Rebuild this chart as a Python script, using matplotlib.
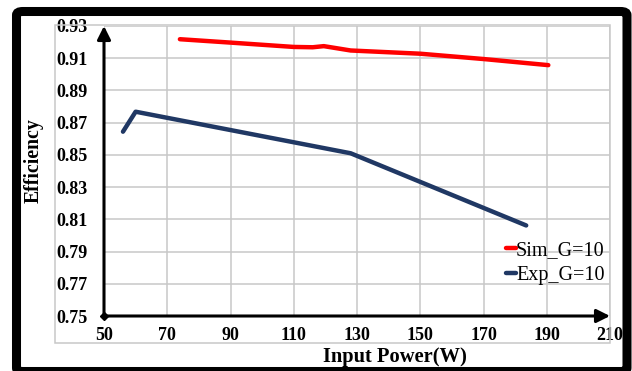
import numpy as np
import matplotlib.pyplot as plt
from matplotlib.patches import Rectangle, FancyBboxPatch

# data
sim_power = [74, 90, 110, 116, 119.5, 128, 150, 170, 190.5]
sim_eff = [0.9218, 0.9197, 0.9170, 0.9168, 0.9175, 0.9148, 0.9128, 0.9095, 0.9057]
exp_power = [56, 60, 128, 183.5]
exp_eff = [0.8644, 0.8768, 0.8510, 0.8062]

xticks = [50, 70, 90, 110, 130, 150, 170, 190, 210]
yticks = [0.75, 0.77, 0.79, 0.81, 0.83, 0.85, 0.87, 0.89, 0.91, 0.93]

W, H = 632, 371
serif = 'Liberation Serif'

fig = plt.figure(figsize=(W / 100, H / 100), dpi=100)
ax = fig.add_axes([104 / W, 1 - 316 / H, 506 / W, 290 / H])

ax.plot(sim_power, sim_eff, color='#ff0000', lw=3.2, solid_capstyle='round', label='Sim_G=10')
ax.plot(exp_power, exp_eff, color='#203864', lw=3.2, solid_capstyle='round', label='Exp_G=10')

ax.set_xlim(50, 210)
ax.set_ylim(0.75, 0.93)
ax.set_xticks(xticks)
ax.set_yticks(yticks)
ax.set_xticklabels([str(t) for t in xticks], fontfamily=serif, fontweight='bold', fontsize=13)
ax.set_yticklabels(['%.2f' % t for t in yticks], fontfamily=serif, fontweight='bold', fontsize=13)
ax.tick_params(length=0)
ax.tick_params(axis='y', pad=12)
ax.tick_params(axis='x', pad=8)
ax.grid(True, color='#c8c8c8', lw=1.1)
ax.set_axisbelow(True)
for s in ax.spines.values():
    s.set_visible(False)

# arrow axes
ax.annotate('', xy=(1.0, 0), xytext=(0, 0), xycoords='axes fraction',
            arrowprops=dict(arrowstyle='-|>', lw=2.2, color='black', mutation_scale=20,
                            shrinkA=0, shrinkB=0))
ax.annotate('', xy=(0, 1.0), xytext=(0, 0), xycoords='axes fraction',
            arrowprops=dict(arrowstyle='-|>', lw=2.2, color='black', mutation_scale=20,
                            shrinkA=0, shrinkB=0))
ax.plot(50, 0.75, marker='D', ms=4, color='black', clip_on=False)

fig.text(395 / W, 1 - 357 / H, 'Input Power(W)', fontfamily=serif, fontweight='bold',
         fontsize=14.8, ha='center', va='center')
fig.text(34 / W, 1 - 161 / H, 'Efficiency', fontfamily=serif, fontweight='bold',
         fontsize=14.2, rotation=90, ha='center', va='center')

leg = ax.legend(loc='center left', frameon=False,
                prop={'family': serif, 'size': 14.5}, handlelength=0.5,
                handletextpad=0.0, labelspacing=0.25, borderaxespad=0, borderpad=0)
leg.set_bbox_to_anchor((506 / W, 1 - 263 / H), transform=fig.transFigure)

# light chart area frame
fig.patches.append(Rectangle((55 / W, 1 - 343 / H), 555 / W, 318 / H, transform=fig.transFigure,
                             fill=False, edgecolor='#c8c8c8', lw=1.1))
# thick black outer border
fig.patches.append(FancyBboxPatch((16.5 / W, 1 - 371.5 / H), 610.5 / W, 360 / H,
                                  boxstyle='round,pad=0,rounding_size=0.01',
                                  transform=fig.transFigure, fill=False,
                                  edgecolor='black', lw=6.5))

fig.savefig('out.png', dpi=100)
